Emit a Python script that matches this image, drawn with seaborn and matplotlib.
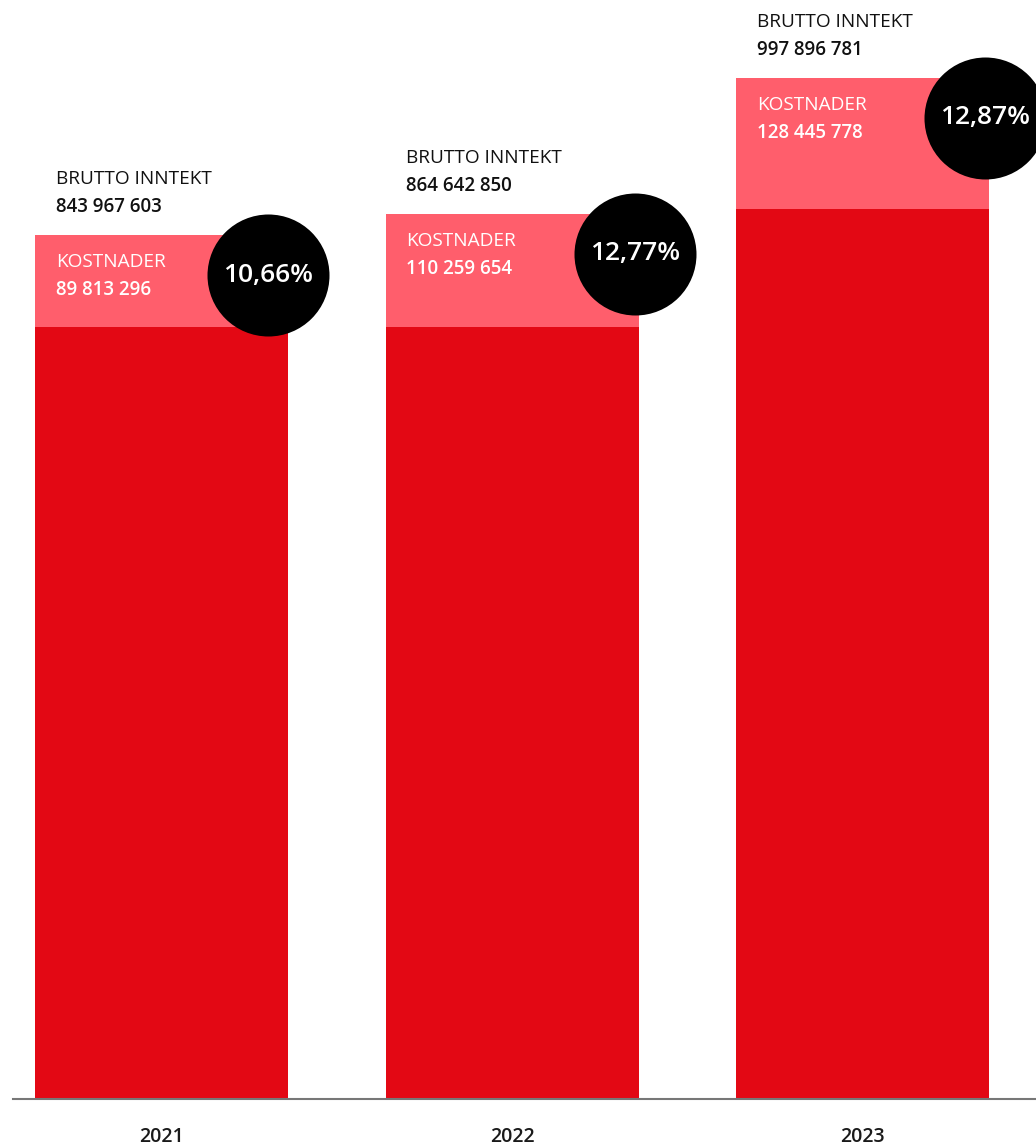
import matplotlib
matplotlib.use("Agg")
import matplotlib.pyplot as plt
import seaborn as sns
import pandas as pd

# ---- data ----
years = ["2021", "2022", "2023"]
brutto_inntekt = [843967603, 864642850, 997896781]
kostnader = [89813296, 110259654, 128445778]
kostnad_pct = ["10,66%", "12,77%", "12,87%"]
label_brutto = "BRUTTO INNTEKT"
label_kost = "KOSTNADER"

def fmt(n):
    return f"{n:,}".replace(",", " ")

# ---- style ----
RED = "#E30814"
PINK = "#FF5E6C"
FONT = ["Open Sans", "DejaVu Sans"]

sns.set_theme(style="white")
plt.rcParams["font.family"] = FONT

W, H = 1036, 1147
DPI = 100
fig = plt.figure(figsize=(W / DPI, H / DPI), dpi=DPI)

base_px = 1099      # baseline pixel row
left_px = 13
spacing = 350.5     # px per category
x0_px = 161.5       # px of first category centre
px_per_m = 1.0236   # px per million
ax = fig.add_axes([left_px / W, (H - base_px) / H, 1 - left_px / W, base_px / H])

df = pd.DataFrame({
    "year": years,
    "total": [v / 1e6 for v in brutto_inntekt],
    "net": [(b - k) / 1e6 for b, k in zip(brutto_inntekt, kostnader)],
})

bar_w = 253 / spacing
sns.barplot(data=df, x="year", y="total", order=years, color=PINK, width=bar_w,
            saturation=1, ax=ax, zorder=2, linewidth=0)
sns.barplot(data=df, x="year", y="net", order=years, color=RED, width=bar_w,
            saturation=1, ax=ax, zorder=3, linewidth=0)

ax.set_xlim((left_px - x0_px) / spacing, (W - x0_px) / spacing)
ax.set_ylim(0, base_px / px_per_m)

for s in ["top", "right", "left"]:
    ax.spines[s].set_visible(False)
ax.spines["bottom"].set_color("#777777")
ax.spines["bottom"].set_linewidth(1.5)
ax.spines["bottom"].set_zorder(4)
ax.set_xlabel("")
ax.set_ylabel("")
ax.set_yticks([])
ax.tick_params(axis="x", length=0, pad=20)
for lab in ax.get_xticklabels():
    lab.set_fontsize(14)
    lab.set_fontweight("semibold")
    lab.set_color("#1a1a1a")

circle_dx = [0.304, 0.35, 0.35]
circle_dy_px = 40
r_px = 61

for i, (b, k, p) in enumerate(zip(brutto_inntekt, kostnader, kostnad_pct)):
    top = b / 1e6
    xl = i - bar_w / 2
    kw = dict(textcoords="offset pixels", ha="left", va="center", annotation_clip=False)
    ax.annotate(label_brutto, (xl, top), xytext=(21, 56), fontsize=13.7,
                color="#111111", zorder=6, **kw)
    ax.annotate(fmt(b), (xl, top), xytext=(21, 28), fontsize=13.5, fontweight="semibold",
                color="#111111", zorder=6, **kw)
    ax.annotate(label_kost, (xl, top), xytext=(21, -27), fontsize=13.7,
                color="white", zorder=6, **kw)
    ax.annotate(fmt(k), (xl, top), xytext=(21, -55), fontsize=13.5, fontweight="semibold",
                color="white", zorder=6, **kw)
    cx = i + circle_dx[i]
    cy = top - circle_dy_px / px_per_m
    ax.scatter([cx], [cy], s=(2 * r_px * 72 / DPI) ** 2, color="black", zorder=7,
               clip_on=False, linewidths=0)
    ax.text(cx, cy, p, ha="center", va="center", fontsize=19, fontweight="semibold",
            color="white", zorder=8, clip_on=False)

fig.savefig("out.png", dpi=DPI)
